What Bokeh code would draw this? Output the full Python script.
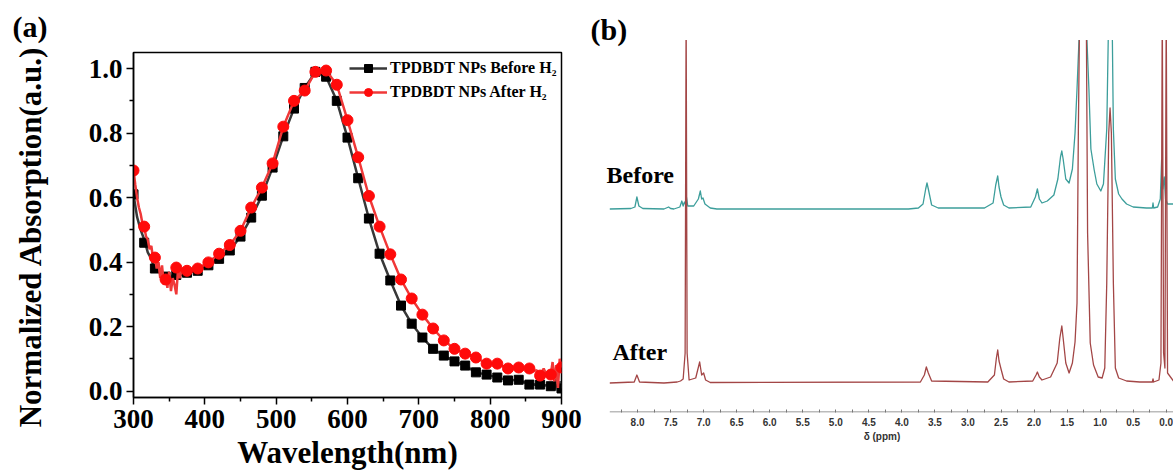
from bokeh.plotting import figure
from bokeh.models import (Range1d, FixedTicker, PrintfTickFormatter, Legend, LegendItem, Label,
                          BoxAnnotation)
from bokeh.layouts import row
from bokeh.embed import file_html
from bokeh.resources import INLINE

# ---------------- Panel (a) data: UV-Vis ----------------
wl_markers = [300, 315, 330, 345, 360, 375, 390, 405, 420, 435, 450, 465, 480, 495, 510, 525, 540, 555,
              570, 585, 600, 615, 630, 645, 660, 675, 690, 705, 720, 735, 750, 765, 780, 795, 810, 825,
              840, 855, 870, 885, 900]
before_markers = [0.61, 0.46, 0.38, 0.355, 0.36, 0.367, 0.373, 0.39, 0.41, 0.436, 0.479, 0.538, 0.606,
                  0.693, 0.79, 0.876, 0.94, 0.99, 0.975, 0.90, 0.786, 0.66, 0.535, 0.426, 0.343, 0.265,
                  0.209, 0.166, 0.131, 0.11, 0.092, 0.079, 0.058, 0.051, 0.042, 0.033, 0.035, 0.02,
                  0.02, 0.015, 0.008]
after_markers = [0.684, 0.51, 0.414, 0.346, 0.383, 0.373, 0.38, 0.399, 0.426, 0.453, 0.497, 0.569, 0.631,
                 0.706, 0.82, 0.90, 0.932, 0.99, 0.994, 0.95, 0.84, 0.725, 0.605, 0.51, 0.424, 0.346,
                 0.287, 0.237, 0.194, 0.157, 0.131, 0.116, 0.104, 0.085, 0.085, 0.07, 0.073, 0.07,
                 0.048, 0.051, 0.073]

# noisy parts of the measured traces
before_head_wl = [300, 305, 310, 315, 320, 325, 330, 335, 340, 345, 350, 355, 360]
before_head = [0.61, 0.54, 0.50, 0.47, 0.43, 0.41, 0.375, 0.38, 0.355, 0.36, 0.345, 0.36, 0.355]
before_tail_wl = [845, 850, 855, 860, 865, 870, 875, 880, 885, 890, 892.5, 895, 897.5, 900]
before_tail = [0.03, 0.025, 0.02, 0.022, 0.018, 0.02, 0.015, 0.02, 0.015, 0.005, 0.04, 0.0, 0.03, 0.008]

after_head_wl = [300, 302.5, 305, 307.5, 310, 312.5, 315, 317.5, 320, 322.5, 325, 327.5, 330, 332.5,
                 335, 337.5, 340, 342.5, 345, 347.5, 350, 352.5, 355, 357.5, 360, 362.5, 365, 367.5, 370]
after_head = [0.684, 0.64, 0.60, 0.57, 0.55, 0.52, 0.51, 0.48, 0.47, 0.44, 0.45, 0.41, 0.42, 0.38, 0.40,
              0.35, 0.39, 0.33, 0.36, 0.32, 0.37, 0.31, 0.35, 0.33, 0.30, 0.38, 0.35, 0.38, 0.375]
after_tail_wl = [845, 850, 855, 860, 865, 870, 875, 880, 885, 887.5, 890, 892.5, 895, 897.5, 900]
after_tail = [0.065, 0.075, 0.07, 0.06, 0.065, 0.048, 0.07, 0.045, 0.051, 0.09, 0.03, 0.08, 0.01, 0.1, 0.073]

x_ticks_a = [300, 400, 500, 600, 700, 800, 900]
y_ticks_a = [0.0, 0.2, 0.4, 0.6, 0.8, 1.0]

# ---------------- Panel (b) data: 1H NMR (off-scale peaks run past the window top) ----------------
before_ppm = [8.42, 8.10, 8.04, 8.01, 7.98, 7.92, 7.60, 7.53, 7.50, 7.45, 7.36, 7.33, 7.31, 7.29, 7.27,
              7.26, 7.24, 7.15, 7.08, 7.05, 7.03, 7.01, 6.98, 6.90, 6.80, 3.90, 3.75, 3.68, 3.64, 3.62,
              3.60, 3.55, 3.45, 2.75, 2.62, 2.58, 2.55, 2.53, 2.50, 2.46, 2.38, 2.05, 1.98, 1.95, 1.92,
              1.88, 1.80, 1.70, 1.64, 1.60, 1.58, 1.56, 1.52, 1.47, 1.42, 1.38, 1.35, 1.32, 1.31, 1.21,
              1.20, 1.17, 1.14, 1.09, 1.05, 0.99, 0.95, 0.90, 0.87, 0.82, 0.80, 0.77, 0.72, 0.67, 0.60,
              0.50, 0.30, 0.21, 0.20, 0.19, 0.13, 0.09, 0.07, 0.05, 0.03, 0.01, -0.02, -0.11]
before_int = [0, 0.5, 2, 12, 3, 0.5, 0, 2, 0.5, 0, 2, 8, 3, 7, 4,
              12, 3, 3, 10, 18, 10, 11, 5, 1, 0, 0, 1, 5, 20, 26,
              20, 4, 1, 1, 6, 24, 33, 22, 12, 4, 1, 2, 12, 20, 10,
              6, 8, 14, 30, 52, 58, 50, 30, 26, 40, 76, 120, 169, 200, 200,
              169, 120, 60, 39, 25, 18, 25, 80, 200, 200, 80, 30, 15, 10, 5,
              2, 1, 1, 6, 1, 2, 10, 49, 20, 32, 10, 5, 5]

after_ppm = [8.42, 8.05, 8.01, 7.97, 7.60, 7.50, 7.40, 7.35, 7.31, 7.28, 7.265, 7.25, 7.22, 7.12, 7.06,
             7.03, 7.00, 6.97, 6.90, 3.72, 3.66, 3.63, 3.60, 3.55, 2.70, 2.60, 2.57, 2.55, 2.53, 2.50,
             2.46, 2.38, 2.02, 1.97, 1.95, 1.92, 1.88, 1.75, 1.65, 1.61, 1.58, 1.56, 1.52, 1.47, 1.42,
             1.38, 1.35, 1.33, 1.31, 1.21, 1.19, 1.15, 1.10, 1.03, 0.97, 0.93, 0.90, 0.87, 0.85, 0.83,
             0.80, 0.77, 0.72, 0.60, 0.40, 0.21, 0.20, 0.19, 0.11, 0.08, 0.06, 0.04, 0.02, 0.00, -0.02,
             -0.11]
after_int = [0, 1, 8, 1, 0, 0.5, 1, 2, 4, 30, 375, 30, 3, 5, 21,
             8, 10, 3, 0.5, 1, 8, 16, 10, 2, 1, 8, 25, 33, 22, 14,
             4, 1, 2, 8, 11, 6, 3, 6, 20, 45, 57, 45, 20, 10, 20,
             41, 80, 250, 375, 375, 150, 40, 18, 6, 5, 15, 100, 250, 275, 250,
             100, 15, 5, 2, 1, 1, 4, 1, 3, 20, 375, 30, 15, 375, 10,
             2]

ppm_ticks = [0.0, 0.5, 1.0, 1.5, 2.0, 2.5, 3.0, 3.5, 4.0, 4.5, 5.0, 5.5, 6.0, 6.5, 7.0, 7.5, 8.0]
ppm_minor = [0.25, 0.75, 1.25, 1.75, 2.25, 2.75, 3.25, 3.75, 4.25, 4.75, 5.25, 5.75, 6.25, 6.75,
             7.25, 7.75, 8.25]

SERIF = "Liberation Serif"

# ---------------- Panel (a) ----------------
p1 = figure(width=590, height=472, output_backend="svg", toolbar_location=None,
            x_range=Range1d(300, 900), y_range=Range1d(-0.02, 1.05),
            min_border_left=133, min_border_right=29, min_border_top=52, min_border_bottom=75,
            title="(a)")
p1.frame_align = False
p1.grid.visible = False
p1.outline_line_color = "black"
p1.outline_line_width = 1.5
p1.title.align = "left"
p1.title.vertical_align = "top"
p1.title.offset = -121
p1.title.standoff = 16
p1.title.text_font = SERIF
p1.title.text_font_style = "bold"
p1.title.text_font_size = "30px"
p1.title.text_color = "black"

mid_b = [(w, v) for w, v in zip(wl_markers, before_markers) if 360 < w < 845]
mid_a = [(w, v) for w, v in zip(wl_markers, after_markers) if 370 < w < 845]
line_b_x = before_head_wl + [m[0] for m in mid_b] + before_tail_wl
line_b_y = before_head + [m[1] for m in mid_b] + before_tail
line_a_x = after_head_wl + [m[0] for m in mid_a] + after_tail_wl
line_a_y = after_head + [m[1] for m in mid_a] + after_tail

l1 = p1.line(line_b_x, line_b_y, line_color="#383838", line_width=2.5)
s1 = p1.scatter(wl_markers, before_markers, marker="square", size=9, fill_color="black", line_color="black")
l2 = p1.line(line_a_x, line_a_y, line_color="#F03838", line_width=2.5)
s2 = p1.scatter(wl_markers, after_markers, marker="circle", size=11, fill_color="#FF0A0A", line_color="#FF0A0A")

legend = Legend(items=[LegendItem(label="TPDBDT NPs Before H₂", renderers=[l1, s1]),
                       LegendItem(label="TPDBDT NPs After H₂", renderers=[l2, s2])],
                location=(216, 295), glyph_width=38, glyph_height=20, label_height=20,
                label_standoff=3, spacing=4, padding=0, margin=0,
                border_line_alpha=0, background_fill_alpha=0,
                label_text_font=SERIF, label_text_font_style="bold", label_text_font_size="16px",
                label_text_color="black")
p1.add_layout(legend)

for ax in (p1.xaxis[0], p1.yaxis[0]):
    ax.axis_line_width = 1.5
    ax.axis_line_color = "black"
    ax.major_tick_line_width = 1.5
    ax.minor_tick_line_width = 1.5
    ax.major_tick_out = 7
    ax.major_tick_in = 0
    ax.minor_tick_out = 4
    ax.minor_tick_in = 0
    ax.major_label_text_font = SERIF
    ax.major_label_text_font_style = "bold"
    ax.major_label_text_font_size = "27px"
    ax.major_label_text_color = "black"
    ax.axis_label_text_font = SERIF
    ax.axis_label_text_font_style = "bold"
    ax.axis_label_text_font_size = "31px"
    ax.axis_label_text_color = "black"

p1.xaxis.ticker = FixedTicker(ticks=x_ticks_a, minor_ticks=[350, 450, 550, 650, 750, 850])
p1.xaxis.axis_label = "Wavelength(nm)"
p1.xaxis.major_label_standoff = 5
p1.xaxis.axis_label_standoff = 4
p1.yaxis.ticker = FixedTicker(ticks=y_ticks_a, minor_ticks=[0.1, 0.3, 0.5, 0.7, 0.9])
p1.yaxis.formatter = PrintfTickFormatter(format="%.1f")
p1.yaxis.axis_label = "Normalized Absorption(a.u.)" + "\u00a0" * 3
p1.yaxis.major_label_standoff = 4
p1.yaxis.axis_label_standoff = 38

# ---------------- Panel (b) ----------------
PPM_LEFT = 8.712   # canvas-left edge of panel (b) frame
p2 = figure(width=583, height=472, output_backend="svg", toolbar_location=None,
            x_range=Range1d(PPM_LEFT, -0.11), y_range=Range1d(-0.5, 411.5), y_axis_location=None,
            min_border_left=0, min_border_right=0, min_border_top=0, min_border_bottom=60)
p2.frame_align = False
p2.grid.visible = False
p2.outline_line_color = None

BEFORE_OFFSET = 203
AFTER_OFFSET = 29
p2.line(before_ppm, [v + BEFORE_OFFSET for v in before_int], line_color="#3C9E9B", line_width=1.3,
        line_join="round")
p2.line(after_ppm, [v + AFTER_OFFSET for v in after_int], line_color="#A34646", line_width=1.3,
        line_join="round")
# axis baseline spanning only the measured ppm range
p2.segment(x0=[before_ppm[0]], y0=[0], x1=[before_ppm[-1]], y1=[0], line_color="#777777", line_width=1)

# white mask: spectra clipped at the top of the spectrum window
p2.add_layout(BoxAnnotation(bottom=372, top=2000, left=20, right=-20,
                            fill_color="white", fill_alpha=1, line_alpha=0))

ax2 = p2.xaxis[0]
ax2.ticker = FixedTicker(ticks=ppm_ticks, minor_ticks=ppm_minor)
ax2.formatter = PrintfTickFormatter(format="%.1f")
ax2.axis_line_color = None
ax2.major_tick_line_color = "#777777"
ax2.minor_tick_line_color = "#777777"
ax2.major_tick_in = 3
ax2.major_tick_out = 0
ax2.minor_tick_in = 3
ax2.minor_tick_out = 0
ax2.major_label_text_font = "Liberation Sans"
ax2.major_label_text_font_style = "bold"
ax2.major_label_text_font_size = "10px"
ax2.major_label_text_color = "#333333"
ax2.major_label_standoff = 5
ax2.axis_label = "δ (ppm)"
ax2.axis_label_text_font = "Liberation Sans"
ax2.axis_label_text_font_style = "bold"
ax2.axis_label_text_font_size = "10px"
ax2.axis_label_text_color = "#333333"
ax2.axis_label_standoff = 2

p2.add_layout(Label(x=0, y=383, x_units="screen", y_units="screen", text="(b)",
                    text_font=SERIF, text_font_style="bold", text_font_size="30px",
                    text_baseline="middle", text_align="left", text_color="black"))
p2.add_layout(Label(x=16, y=238, x_units="screen", y_units="screen", text="Before",
                    text_font=SERIF, text_font_style="bold", text_font_size="24px",
                    text_baseline="middle", text_align="left", text_color="black"))
p2.add_layout(Label(x=22, y=61, x_units="screen", y_units="screen", text="After",
                    text_font=SERIF, text_font_style="bold", text_font_size="24px",
                    text_baseline="middle", text_align="left", text_color="black"))

layout = row(p1, p2, spacing=0)
open("out.html", "w").write(file_html(layout, INLINE))
